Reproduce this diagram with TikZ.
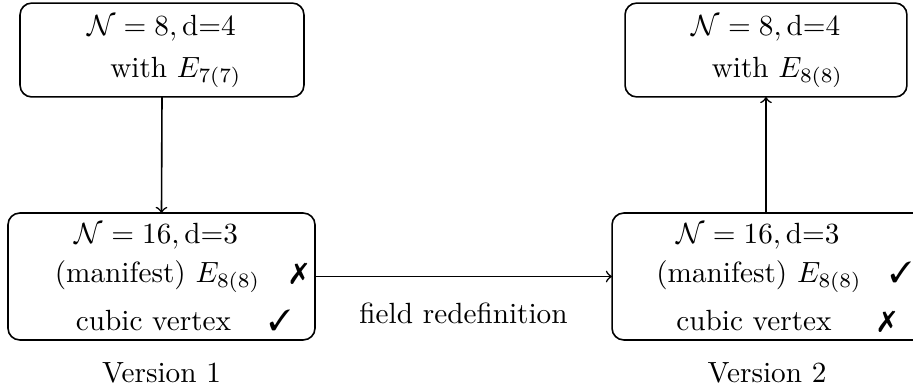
\documentclass[tikz,border=0pt]{standalone}
\usepackage{pifont}
\begin{document}
\begin{tikzpicture}[x=0.342pt,y=-0.342pt,
  box/.style={draw,line width=0.55pt,rounded corners=4pt,inner sep=0pt,outer sep=0pt},
  txt/.style={anchor=base,inner sep=0pt},
  conn/.style={->,line width=0.55pt}]
\useasboundingbox (0,0) rectangle (913,389);
% boxes
\node[box,minimum width=97.1pt,minimum height=32.1pt] (tl) at (162,50) {};
\node[box,minimum width=105pt,minimum height=43.4pt] (bl) at (161.5,276.5) {};
\node[box,minimum width=96.4pt,minimum height=32.1pt] (tr) at (766,50) {};
\node[box,minimum width=107pt,minimum height=43.4pt] (br) at (768.5,276.5) {};
% texts top left
\node[txt] (tl1) at (161.5,35) {$\mathcal{N}=8,\mbox{d=4}$};
\node[txt] (tl2) at (176,77) {with $E_{7(7)}$};
% texts bottom left
\node[txt] (bl1) at (156.5,243) {$\mathcal{N}=16,\mbox{d=3}$};
\node[txt] (bl2) at (157.5,282) {(manifest) $E_{8(8)}$};
\node[txt] (bl2m) at (299,282) {\ding{55}};
\node[txt] (bl3) at (153.5,330) {cubic vertex};
\node[txt] (bl3m) at (280,330) {\ding{51}};
% texts top right
\node[txt] (tr1) at (766,35) {$\mathcal{N}=8,\mbox{d=4}$};
\node[txt] (tr2) at (777.5,77) {with $E_{8(8)}$};
% texts bottom right
\node[txt] (br1) at (758,243) {$\mathcal{N}=16,\mbox{d=3}$};
\node[txt] (br2) at (759,282) {(manifest) $E_{8(8)}$};
\node[txt] (br2m) at (901,282) {\ding{51}};
\node[txt] (br3) at (754,330) {cubic vertex};
\node[txt] (br3m) at (887,330) {\ding{55}};
% labels
\node[txt] (lab) at (463.5,323) {field redefinition};
\node[txt] (v1) at (161.5,382) {Version 1};
\node[txt] (v2) at (767,382) {Version 2};
% connectors
\draw[conn] (tl.south) -- (bl.north);
\draw[conn] (tr.south |- br.north) -- (tr.south);
\draw[conn] (bl.east) -- (br.west);
\end{tikzpicture}
\end{document}
